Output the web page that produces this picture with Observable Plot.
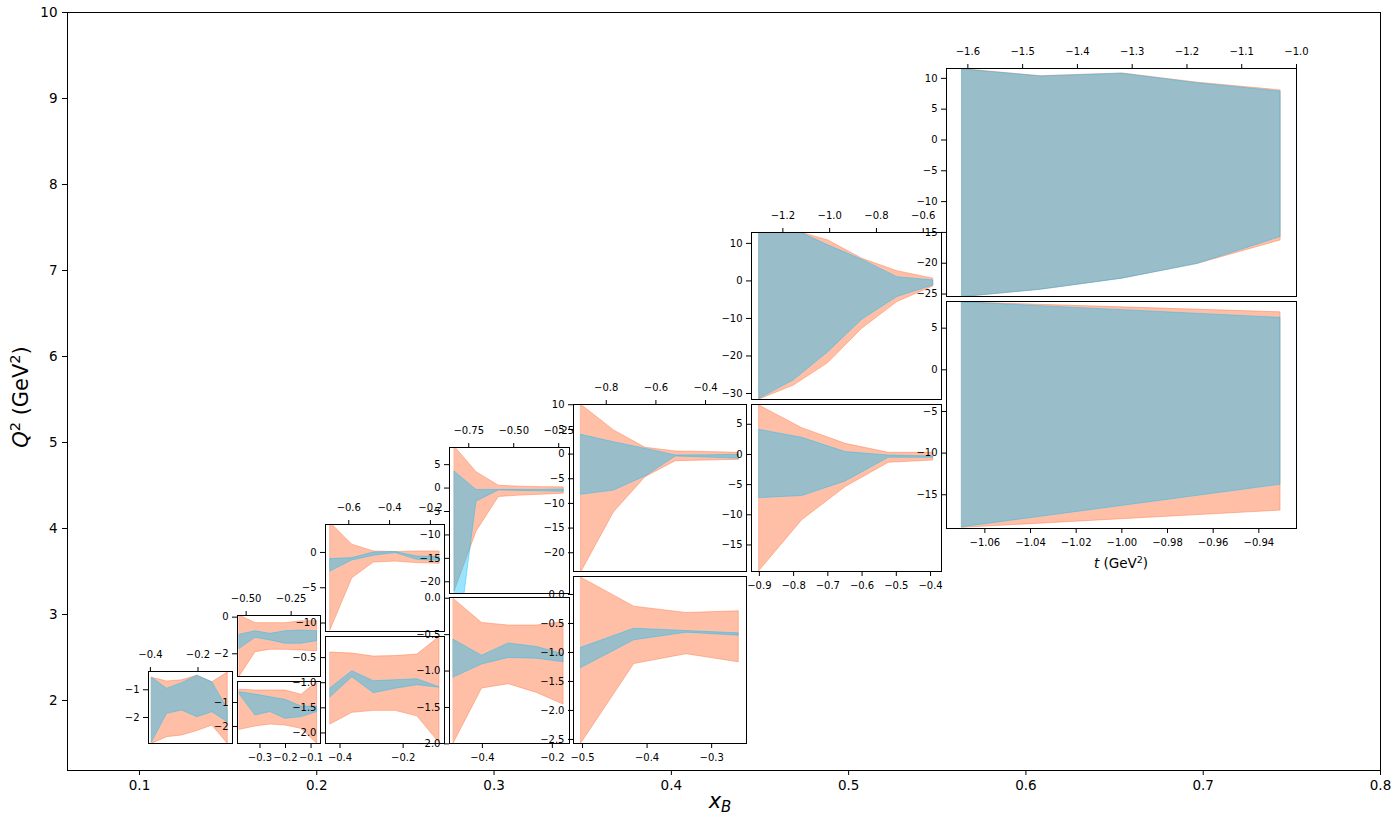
<!DOCTYPE html>
<html><head><meta charset="utf-8">
<script src="https://cdn.jsdelivr.net/npm/d3@7"></script>
<script src="https://cdn.jsdelivr.net/npm/@observablehq/plot@0.6"></script>
<style>
body{margin:0;background:white;}
#wrap{position:relative;width:1400px;height:820px;font-family:"DejaVu Sans",sans-serif;}
#wrap svg{position:absolute;overflow:visible;}
</style></head><body><div id="wrap"></div><script>
// ---- main axes ----
const xBTicks = [0.1, 0.2, 0.3, 0.4, 0.5, 0.6, 0.7, 0.8];
const q2Ticks = [2, 3, 4, 5, 6, 7, 8, 9, 10];

// ---- bin A (single panel) ----
const tA      = [-0.393, -0.330, -0.267, -0.203, -0.140, -0.075];
const redLoA  = [-2.95, -2.71, -2.65, -2.49, -2.29, -2.95];
const redHiA  = [-0.57, -0.70, -0.66, -0.49, -0.73, -0.38];
const blueLoA = [-2.89, -1.87, -1.75, -1.99, -1.81, -2.17];
const blueHiA = [-0.57, -0.96, -0.76, -0.49, -0.73, -1.69];

// ---- bin B ----
const tBt      = [-0.536, -0.448, -0.365, -0.282, -0.193, -0.106];
const redLoBt  = [-3.24, -1.91, -1.78, -1.78, -1.82, -1.86];
const redHiBt  = [0.09, -0.33, -0.33, -0.33, -0.23, -0.22];
const blueLoBt = [-1.73, -1.13, -1.27, -1.45, -1.45, -1.31];
const blueHiBt = [-0.96, -0.77, -0.91, -0.77, -0.73, -0.77];
const tBb      = [-0.379, -0.318, -0.259, -0.200, -0.137, -0.076];
const redLoBb  = [-2.14, -2.00, -1.92, -1.96, -2.10, -2.72];
const redHiBb  = [-0.47, -0.50, -0.50, -0.50, -0.68, -0.15];
const blueLoBb = [-0.67, -1.54, -1.40, -1.68, -1.61, -1.40];
const blueHiBb = [-0.57, -0.67, -0.78, -0.89, -1.17, -1.17];

// ---- bin C ----
const tCt      = [-0.690, -0.583, -0.477, -0.371, -0.265, -0.155];
const redLoCt  = [-11.04, -3.66, -1.43, -1.29, -1.51, -1.61];
const redHiCt  = [4.2, 1.1, 0.14, 0.06, 0.14, 0.14];
const blueLoCt = [-2.71, -1.14, -0.47, -0.09, -1.04, -1.19];
const blueHiCt = [-0.94, -0.80, 0.0, 0.06, -0.57, -0.66];
const tCb      = [-0.430, -0.361, -0.293, -0.224, -0.155, -0.085];
const redLoCb  = [-1.83, -1.60, -1.56, -1.56, -1.67, -2.20];
const redHiCb  = [-0.40, -0.42, -0.48, -0.47, -0.44, -0.09];
const blueLoCb = [-1.29, -0.89, -1.21, -1.12, -1.05, -1.10];
const blueHiCb = [-1.11, -0.77, -0.97, -0.95, -0.93, -1.09];

// ---- bin D ----
const tDt      = [-0.828, -0.707, -0.583, -0.463, -0.342, -0.222];
const redLoDt  = [-22.0, -9.3, -1.9, -1.6, -1.4, -1.2];
const redHiDt  = [8.8, 3.4, 0.5, 0.3, 0.2, 0.15];
const blueLoDt = [-38.7, -2.9, -0.5, -0.6, -0.7, -0.8];
const blueHiDt = [3.5, -0.4, -0.4, -0.4, -0.4, -0.3];
const tDb      = [-0.482, -0.401, -0.325, -0.244, -0.168];
const redLoDb  = [-1.99, -1.24, -1.18, -1.30, -1.46];
const redHiDb  = [-0.01, -0.34, -0.375, -0.375, -0.33];
const blueLoDb = [-1.09, -0.91, -0.82, -0.83, -0.88];
const blueHiDb = [-0.57, -0.79, -0.62, -0.67, -0.77];

// ---- bin E ----
const tEt      = [-0.901, -0.769, -0.642, -0.520, -0.395, -0.265];
const redLoEt  = [-23.95, -11.8, -4.68, -1.44, -1.30, -1.16];
const redHiEt  = [10.0, 4.8, 1.28, 0.53, 0.40, 0.26];
const blueLoEt = [-8.26, -7.4, -4.54, -0.49, -0.70, -0.96];
const blueHiEt = [3.9, 2.4, 1.07, -0.28, -0.25, -0.15];
const tEb      = [-0.502, -0.420, -0.339, -0.258];
const redLoEb  = [-2.57, -1.20, -1.03, -1.17];
const redHiEb  = [0.29, -0.21, -0.32, -0.29];
const blueLoEb = [-1.27, -0.79, -0.66, -0.71];
const blueHiEb = [-0.92, -0.59, -0.63, -0.67];

// ---- bin F ----
const tFt      = [-1.300, -1.153, -1.006, -0.861, -0.711, -0.557];
const redLoFt  = [-31.6, -27.9, -21.9, -12.75, -5.65, -1.47];
const redHiFt  = [13.5, 13.4, 10.8, 5.9, 2.6, 0.6];
const blueLoFt = [-31.4, -26.5, -19.0, -10.35, -4.3, -1.2];
const blueHiFt = [13.5, 13.7, 9.47, 5.65, 1.0, 0.13];
const tFb      = [-0.900, -0.775, -0.648, -0.522, -0.392];
const redLoFb  = [-19.3, -10.9, -5.4, -1.38, -1.0];
const redHiFb  = [8.1, 4.36, 1.76, 0.27, 0.27];
const blueLoFb = [-7.23, -6.9, -4.47, -0.55, -0.55];
const blueHiFb = [4.08, 2.76, 0.39, -0.17, -0.33];

// ---- bin G ----
const tGt      = [-1.610, -1.467, -1.318, -1.180, -1.029];
const redLoGt  = [-25.5, -24.3, -22.5, -20.1, -16.3];
const redHiGt  = [11.5, 10.35, 10.8, 9.3, 8.05];
const blueLoGt = [-25.5, -24.3, -22.5, -20.1, -15.75];
const blueHiGt = [11.45, 10.3, 10.75, 9.2, 7.85];
const tGb      = [-1.0699, -0.9305];
const redLoGb  = [-18.97, -16.9];
const redHiGb  = [8.1, 6.9];
const blueLoGb = [-18.9, -13.8];
const blueHiGb = [8.1, 6.24];

// ---- tick labels per panel ----
const ticks = {
  A:  {x: [-0.4, -0.2], y: [-1, -2]},
  Bt: {x: [-0.5, -0.25], y: [0, -2]},
  Bb: {x: [-0.3, -0.2, -0.1], y: [-1, -2]},
  Ct: {x: [-0.6, -0.4, -0.2], y: [0, -5, -10]},
  Cb: {x: [-0.4, -0.2], y: [-0.5, -1, -1.5, -2]},
  Dt: {x: [-0.75, -0.5, -0.25], y: [5, 0, -5, -10, -15, -20]},
  Db: {x: [-0.4, -0.2], y: [0, -0.5, -1, -1.5, -2]},
  Et: {x: [-0.8, -0.6, -0.4], y: [10, 5, 0, -5, -10, -15, -20]},
  Eb: {x: [-0.5, -0.4, -0.3], y: [0, -0.5, -1, -1.5, -2, -2.5]},
  Ft: {x: [-1.2, -1.0, -0.8, -0.6], y: [10, 0, -10, -20, -30]},
  Fb: {x: [-0.9, -0.8, -0.7, -0.6, -0.5, -0.4], y: [5, 0, -5, -10, -15]},
  Gt: {x: [-1.6, -1.5, -1.4, -1.3, -1.2, -1.1, -1.0], y: [10, 5, 0, -5, -10, -15, -20, -25]},
  Gb: {x: [-1.06, -1.04, -1.02, -1.00, -0.98, -0.96, -0.94], y: [5, 0, -5, -10, -15]}
};

// ---- layout (page pixels of each inset's plotting box, scale domains, styling) ----
const RED = "#ff7f50", BLUE = "#00bfff";
const FONT = "'DejaVu Sans', sans-serif";
const panels = [
  {id:"A",  t:tA,  rl:redLoA,  rh:redHiA,  bl:blueLoA,  bh:blueHiA,  box:[148,671,84,72],  xd:[-0.408,-0.055], yd:[-2.94,-0.34], axis:"top",    xdec:1, ydec:0},
  {id:"Bt", t:tBt, rl:redLoBt, rh:redHiBt, bl:blueLoBt, bh:blueHiBt, box:[237,615,83,61],  xd:[-0.548,-0.087], yd:[-3.24,0.09],  axis:"top",    xdec:2, ydec:0},
  {id:"Bb", t:tBb, rl:redLoBb, rh:redHiBb, bl:blueLoBb, bh:blueHiBb, box:[237,681,83,62],  xd:[-0.388,-0.063], yd:[-2.71,-0.125],axis:"bottom", xdec:1, ydec:0},
  {id:"Ct", t:tCt, rl:redLoCt, rh:redHiCt, bl:blueLoCt, bh:blueHiCt, box:[325,524,119,107],xd:[-0.714,-0.131], yd:[-11.2,3.96],  axis:"top",    xdec:1, ydec:0},
  {id:"Cb", t:tCb, rl:redLoCb, rh:redHiCb, bl:blueLoCb, bh:blueHiCb, box:[325,636,119,107],xd:[-0.446,-0.069], yd:[-2.21,-0.08], axis:"bottom", xdec:1, ydec:1},
  {id:"Dt", t:tDt, rl:redLoDt, rh:redHiDt, bl:blueLoDt, bh:blueHiDt, box:[449,447,120,146],xd:[-0.857,-0.19],  yd:[-22.5,8.66],  axis:"top",    xdec:2, ydec:0},
  {id:"Db", t:tDb, rl:redLoDb, rh:redHiDb, bl:blueLoDb, bh:blueHiDb, box:[449,597,120,146],xd:[-0.494,-0.151], yd:[-1.995,0.01], axis:"bottom", xdec:1, ydec:1},
  {id:"Et", t:tEt, rl:redLoEt, rh:redHiEt, bl:blueLoEt, bh:blueHiEt, box:[573,404,173,167],xd:[-0.932,-0.235], yd:[-23.8,10.05], axis:"top",    xdec:1, ydec:0},
  {id:"Eb", t:tEb, rl:redLoEb, rh:redHiEb, bl:blueLoEb, bh:blueHiEb, box:[573,576,173,167],xd:[-0.514,-0.246], yd:[-2.57,0.31],  axis:"bottom", xdec:1, ydec:1},
  {id:"Ft", t:tFt, rl:redLoFt, rh:redHiFt, bl:blueLoFt, bh:blueHiFt, box:[751,232,190,167],xd:[-1.334,-0.522], yd:[-31.6,12.9],  axis:"top",    xdec:1, ydec:0},
  {id:"Fb", t:tFb, rl:redLoFb, rh:redHiFb, bl:blueLoFb, bh:blueHiFb, box:[751,404,190,167],xd:[-0.923,-0.368], yd:[-19.4,8.28],  axis:"bottom", xdec:1, ydec:0},
  {id:"Gt", t:tGt, rl:redLoGt, rh:redHiGt, bl:blueLoGt, bh:blueHiGt, box:[946,68,350,228], xd:[-1.639,-1.0],   yd:[-25.4,11.6],  axis:"top",    xdec:1, ydec:0},
  {id:"Gb", t:tGb, rl:redLoGb, rh:redHiGb, bl:blueLoGb, bh:blueHiGb, box:[946,301,350,227],xd:[-1.0768,-0.9235],yd:[-19.05,8.2], axis:"bottom", xdec:2, ydec:0}
];

const fmt = dec => d => (d < 0 ? "\u2212" : "") + Math.abs(d).toFixed(dec);
const wrap = document.getElementById("wrap");

// ---- main chart ----
const main = Plot.plot({
  width: 1400, height: 820,
  marginLeft: 67, marginRight: 20, marginTop: 12, marginBottom: 50,
  style: {fontFamily: FONT, fontSize: "13.5px", background: "transparent", color: "black"},
  x: {domain: [0.0594, 0.8], ticks: xBTicks, tickFormat: d3.format(".1f"), tickSize: 5, tickPadding: 5, label: null},
  y: {domain: [1.186, 10], ticks: q2Ticks, tickFormat: d3.format("d"), tickSize: 5, tickPadding: 5, label: null},
  marks: [Plot.frame({stroke: "black"})]
});
main.style.left = "0px"; main.style.top = "0px";
wrap.appendChild(main);
const ms = d3.select(main);
const xl = ms.append("text").attr("x", 720).attr("y", 808).attr("text-anchor", "middle")
  .attr("font-family", FONT).attr("font-size", 21).attr("fill", "black");
xl.append("tspan").attr("font-style", "italic").text("x");
xl.append("tspan").attr("font-style", "italic").attr("font-size", 15).attr("dy", 4).text("B");
const yl = ms.append("text").attr("transform", "translate(28,397) rotate(-90)").attr("text-anchor", "middle")
  .attr("font-family", FONT).attr("font-size", 21).attr("fill", "black");
yl.append("tspan").attr("font-style", "italic").text("Q");
yl.append("tspan").attr("font-size", 14.5).attr("dy", -8).text("2");
yl.append("tspan").attr("dy", 8).text(" (GeV");
yl.append("tspan").attr("font-size", 14.5).attr("dy", -8).text("2");
yl.append("tspan").attr("dy", 8).text(")");

// ---- insets ----
for (const p of panels) {
  const [bx, by, bw, bh] = p.box;
  const ml = 56, mr = 16;
  const mt = p.axis === "top" ? 34 : 8;
  const mb = p.axis === "bottom" ? 30 : 8;
  const idx = d3.range(p.t.length);
  const tk = ticks[p.id];
  const chart = Plot.plot({
    width: bw + ml + mr, height: bh + mt + mb,
    marginLeft: ml, marginRight: mr, marginTop: mt, marginBottom: mb,
    style: {fontFamily: FONT, fontSize: "10px", background: "transparent", color: "black", overflow: "visible"},
    x: {domain: p.xd, axis: p.axis, ticks: tk.x, tickFormat: fmt(p.xdec), tickSize: 5, tickPadding: p.axis === "top" ? 9 : 5, label: null},
    y: {domain: p.yd, ticks: tk.y, tickFormat: fmt(p.ydec), tickSize: 5, tickPadding: 4, label: null},
    marks: [
      Plot.frame({fill: "white", stroke: null}),
      Plot.areaY(idx, {x: i => p.t[i], y1: i => p.rl[i], y2: i => p.rh[i], fill: RED, fillOpacity: 0.5, stroke: RED, strokeOpacity: 0.5, strokeWidth: 1, clip: true}),
      Plot.areaY(idx, {x: i => p.t[i], y1: i => p.bl[i], y2: i => p.bh[i], fill: BLUE, fillOpacity: 0.4, stroke: BLUE, strokeOpacity: 0.4, strokeWidth: 1, clip: true}),
      Plot.frame({stroke: "black", strokeWidth: 1})
    ]
  });
  chart.style.left = (bx - ml) + "px";
  chart.style.top = (by - mt) + "px";
  wrap.appendChild(chart);
  if (p.id === "Gb") {
    const lab = d3.select(chart).append("text").attr("x", ml + bw / 2).attr("y", mt + bh + 40)
      .attr("text-anchor", "middle").attr("font-family", FONT).attr("font-size", 13.5).attr("fill", "black");
    lab.append("tspan").attr("font-style", "italic").text("t");
    lab.append("tspan").text(" (GeV");
    lab.append("tspan").attr("font-size", 9.5).attr("dy", -5).text("2");
    lab.append("tspan").attr("dy", 5).text(")");
  }
}
</script></body></html>
